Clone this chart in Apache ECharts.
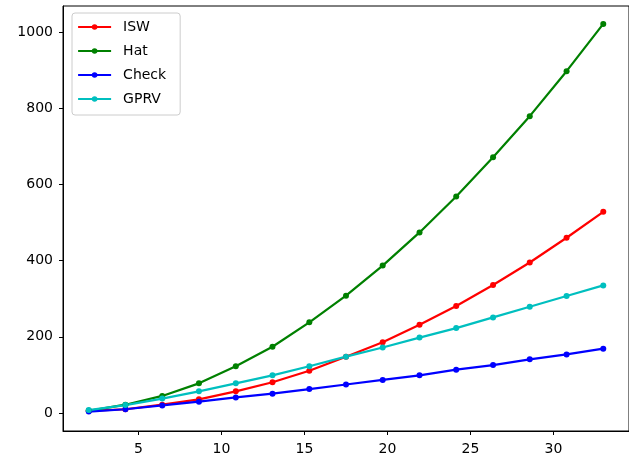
<!DOCTYPE html>
<html>
<head>
<meta charset="utf-8">
<script src="https://cdn.jsdelivr.net/npm/echarts@6/dist/echarts.min.js"></script>
<style>
  html, body { margin: 0; padding: 0; background: #fff; }
  #chart { width: 629px; height: 461px; }
</style>
</head>
<body>
<div id="chart"></div>
<script>
// x positions of the samples (15 points from 2 to 33)
const xs = [2, 4.21, 6.43, 8.64, 10.86, 13.07, 15.29, 17.5, 19.71, 21.93, 24.14, 26.36, 28.57, 30.79, 33]

const isw = [6, 10, 22, 36, 57, 81, 111, 148, 186, 232, 281, 336, 395, 460, 528]
const hat = [6, 22, 45, 78, 123, 174, 238, 308, 387, 474, 568, 671, 779, 897, 1021]
const check = [4, 10, 20, 30, 41, 51, 63, 75, 87, 99, 114, 126, 141, 154, 169]
const gprv = [8, 21, 38, 57, 78, 99, 123, 148, 172, 198, 223, 251, 279, 307, 335]

const xTicks = [5, 10, 15, 20, 25, 30]
const yTicks = [0, 200, 400, 600, 800, 1000]

const font = 'DejaVu Sans'

function pairs(ys) {
  return xs.map((x, i) => [x, ys[i]])
}

function line(name, ys, color) {
  return {
    name,
    type: 'line',
    data: pairs(ys),
    symbol: 'circle',
    symbolSize: 6,
    showSymbol: true,
    lineStyle: { color, width: 2.2 },
    itemStyle: { color },
    emphasis: { disabled: true },
    z: 2
  }
}

const chart = echarts.init(document.getElementById('chart'), null, { renderer: 'canvas' })
chart.setOption({
  animation: false,
  backgroundColor: '#fff',
  grid: {
    left: 63, top: 6, bottom: 30, right: -8,
    show: true, borderColor: '#000', borderWidth: 1
  },
  legend: {
    orient: 'vertical',
    left: 72, top: 13,
    itemWidth: 33, itemHeight: 7, itemGap: 10,
    padding: [7, 14, 9, 5],
    backgroundColor: 'rgba(255,255,255,0.8)',
    borderColor: '#ccc', borderWidth: 1, borderRadius: 3,
    lineStyle: { width: 2.2 },
    textStyle: { fontFamily: font, fontSize: 14, color: '#000', padding: [0, 0, 0, 7] },
    data: ['ISW', 'Hat', 'Check', 'GPRV']
  },
  xAxis: {
    type: 'value',
    min: 0.45, max: 34.55,
    splitLine: { show: false },
    axisLine: { onZero: false, lineStyle: { color: '#000', width: 1 } },
    axisTick: { length: 4, lineStyle: { color: '#000' }, customValues: xTicks },
    axisLabel: { fontFamily: font, fontSize: 14, color: '#000', margin: 11, customValues: xTicks }
  },
  yAxis: {
    type: 'value',
    min: -47, max: 1068,
    splitLine: { show: false },
    axisLine: { show: true, onZero: false, lineStyle: { color: '#000', width: 1 } },
    axisTick: { show: true, length: 4, lineStyle: { color: '#000' }, customValues: yTicks },
    axisLabel: {
      fontFamily: font, fontSize: 14, color: '#000', margin: 10,
      customValues: yTicks, formatter: v => String(v)
    }
  },
  series: [
    line('ISW', isw, '#ff0000'),
    line('Hat', hat, '#008000'),
    line('Check', check, '#0000ff'),
    line('GPRV', gprv, '#00bfbf')
  ]
})
</script>
</body>
</html>
